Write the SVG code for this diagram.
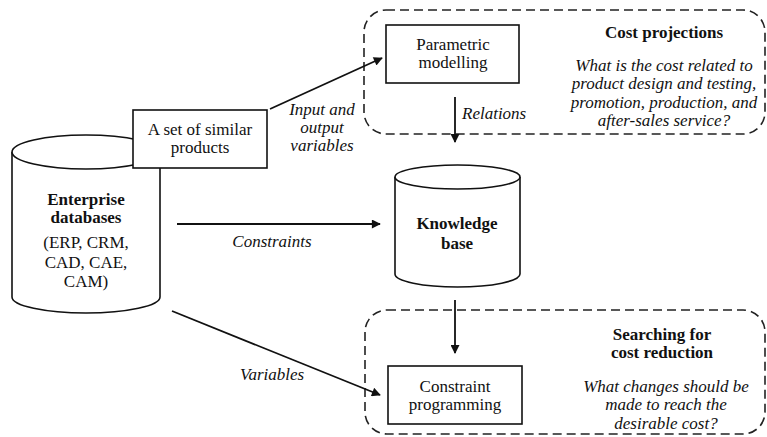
<svg xmlns="http://www.w3.org/2000/svg" width="767" height="437" viewBox="0 0 767 437" font-family="'Liberation Serif', 'DejaVu Serif', serif" font-size="17">
<style>
text{font-family:'Liberation Serif','DejaVu Serif',serif;font-size:17px;fill:#111;text-anchor:middle}
.b{font-weight:bold}
.i{font-style:italic}
.shape{fill:#fff;stroke:#111;stroke-width:1.6}
.dash{fill:none;stroke:#222;stroke-width:1.6;stroke-dasharray:9 5}
.conn{fill:none;stroke:#111;stroke-width:1.8}
</style>
<defs>
<marker id="ah" viewBox="0 0 10 10" refX="9" refY="5" markerWidth="10" markerHeight="9" markerUnits="userSpaceOnUse" orient="auto">
<path d="M0,0 L10,5 L0,10 z" fill="#111"/>
</marker>
</defs>
<rect x="0" y="0" width="767" height="437" fill="#fff"/>
<g id="group-cost-projections">
<rect class="dash" x="364" y="10" width="401" height="124" rx="22"/>
<text class="b" x="664" y="38">Cost projections</text>
<text class="i" x="664" y="71">What is the cost related to</text>
<text class="i" x="664" y="89">product design and testing,</text>
<text class="i" x="664" y="108">promotion, production, and</text>
<text class="i" x="664" y="126">after-sales service?</text>
</g>
<g id="group-cost-reduction">
<rect class="dash" x="365" y="310" width="400" height="124" rx="22"/>
<text class="b" x="662" y="340">Searching for</text>
<text class="b" x="662" y="358">cost reduction</text>
<text class="i" x="666" y="392">What changes should be</text>
<text class="i" x="666" y="410">made to reach the</text>
<text class="i" x="666" y="429">desirable cost?</text>
</g>
<g id="enterprise-databases">
<path class="shape" d="M12,152 L12,297 A74,16 0 0,0 160,297 L160,152"/>
<ellipse class="shape" cx="86" cy="152" rx="74" ry="17"/>
<text class="b" x="86" y="205">Enterprise</text>
<text class="b" x="86" y="223">databases</text>
<text x="86" y="248">(ERP, CRM,</text>
<text x="86" y="268">CAD, CAE,</text>
<text x="86" y="287">CAM)</text>
</g>
<g id="similar-products">
<rect class="shape" x="133" y="110" width="134" height="58"/>
<text x="200" y="135">A set of similar</text>
<text x="200" y="153">products</text>
</g>
<g id="parametric-modelling">
<rect class="shape" x="386" y="25" width="133" height="58"/>
<text x="453" y="50">Parametric</text>
<text x="453" y="68">modelling</text>
</g>
<g id="knowledge-base">
<path class="shape" d="M395,177 L395,274 A62.5,13 0 0,0 520,274 L520,177"/>
<ellipse class="shape" cx="457.5" cy="177" rx="62.5" ry="12"/>
<text class="b" x="457" y="229">Knowledge</text>
<text class="b" x="457" y="249">base</text>
</g>
<g id="constraint-programming">
<rect class="shape" x="388" y="366" width="134" height="58"/>
<text x="455" y="392">Constraint</text>
<text x="455" y="410">programming</text>
</g>
<g id="connectors">
<line class="conn" x1="270" y1="109" x2="382" y2="58" marker-end="url(#ah)"/>
<text class="i" x="322" y="115">Input and</text>
<text class="i" x="322" y="133">output</text>
<text class="i" x="322" y="151">variables</text>
<line class="conn" x1="455" y1="97" x2="455" y2="142" marker-end="url(#ah)"/>
<text class="i" x="462" y="119" style="text-anchor:start">Relations</text>
<line class="conn" x1="177" y1="224" x2="380" y2="224" marker-end="url(#ah)"/>
<text class="i" x="272" y="247">Constraints</text>
<line class="conn" x1="455" y1="300" x2="455" y2="353" marker-end="url(#ah)"/>
<line class="conn" x1="172" y1="311" x2="380" y2="395" marker-end="url(#ah)"/>
<text class="i" x="272" y="380">Variables</text>
</g>
</svg>
